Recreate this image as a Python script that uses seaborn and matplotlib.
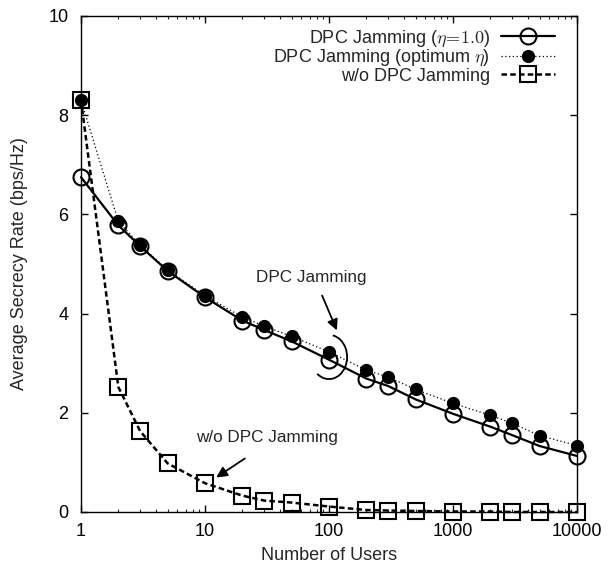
import matplotlib
matplotlib.use("Agg")
import matplotlib.pyplot as plt
from matplotlib.patches import Arc
import seaborn as sns
import pandas as pd

users = [1, 2, 3, 5, 10, 20, 30, 50, 100, 200, 300, 500, 1000, 2000, 3000, 5000, 10000]
rate_eta1 = [6.75, 5.78, 5.36, 4.86, 4.33, 3.86, 3.67, 3.44, 3.07, 2.69, 2.54, 2.27, 1.98, 1.72, 1.55, 1.33, 1.13]
rate_opt = [8.30, 5.86, 5.38, 4.88, 4.36, 3.93, 3.75, 3.54, 3.23, 2.86, 2.72, 2.47, 2.19, 1.95, 1.79, 1.54, 1.34]
rate_wo = [8.30, 2.52, 1.63, 0.98, 0.58, 0.33, 0.23, 0.19, 0.11, 0.04, 0.03, 0.02, 0.01, 0.01, 0.0, 0.0, 0.0]

labels = [r"DPC Jamming ($\eta\!=\!1.0$)", r"DPC Jamming (optimum $\eta$)", "w/o DPC Jamming"]
x_ticks = [1, 10, 100, 1000, 10000]
x_ticklabels = ["1", "10", "100", "1000", "10000"]
y_ticks = [0, 2, 4, 6, 8, 10]

sns.set_style("ticks")
plt.rcParams["font.family"] = ["Liberation Sans", "DejaVu Sans"]
plt.rcParams["mathtext.fontset"] = "cm"
FS = 13

fig = plt.figure(figsize=(6.08, 5.68), dpi=100)
ax = fig.add_axes([81 / 608, 56 / 568, 496 / 608, 496 / 568])

df = pd.DataFrame({"users": users, "eta1": rate_eta1, "opt": rate_opt, "wo": rate_wo})

sns.lineplot(data=df, x="users", y="eta1", ax=ax, color="black", lw=1.6, linestyle="-",
             marker="o", markersize=11.5, markerfacecolor="none", markeredgecolor="black",
             markeredgewidth=1.5, label=labels[0], clip_on=False)
sns.lineplot(data=df, x="users", y="opt", ax=ax, color="black", lw=0.9, linestyle=(0, (1, 2)),
             marker="o", markersize=8.5, markerfacecolor="black", markeredgecolor="black",
             markeredgewidth=1.0, label=labels[1], clip_on=False)
sns.lineplot(data=df, x="users", y="wo", ax=ax, color="black", lw=1.8, linestyle=(0, (2.2, 1.3)),
             marker="s", markersize=11, markerfacecolor="none", markeredgecolor="black",
             markeredgewidth=1.5, label=labels[2], clip_on=False)

ax.set_xscale("log")
ax.set_xlim(1, 10000)
ax.set_ylim(0, 10)
ax.set_xticks(x_ticks)
ax.set_xticklabels(x_ticklabels)
ax.set_yticks(y_ticks)
ax.tick_params(which="major", direction="in", length=5, width=1.0, top=True, right=True,
               labelsize=FS, colors="black")
ax.tick_params(axis="x", which="major", pad=8)
ax.tick_params(axis="y", which="major", pad=9)
ax.tick_params(axis="x", which="minor", direction="in", length=2.5, width=0.8, top=True)
ax.tick_params(axis="y", which="minor", left=False, right=False)
for s in ax.spines.values():
    s.set_linewidth(1.0)
    s.set_color("black")
    s.set_zorder(1)

ax.set_xlabel("Number of Users", fontsize=FS, labelpad=5)
ax.set_ylabel("Average Secrecy Rate (bps/Hz)", fontsize=FS, labelpad=15)

leg = ax.legend(loc="upper right", bbox_to_anchor=(0.956, 0.975), frameon=False,
                markerfirst=False, fontsize=FS, handlelength=3.0, handletextpad=0.6,
                labelspacing=-0.05, borderaxespad=0, borderpad=0)
for t in leg.get_texts():
    t.set_ha("right")

# annotations
ax.annotate("", xy=(0.518, 0.361), xytext=(0.484, 0.4415), xycoords="axes fraction",
            arrowprops=dict(arrowstyle="-|>", color="black", lw=1.3, mutation_scale=16))
ax.text(0.464, 0.472, "DPC Jamming", transform=ax.transAxes, ha="center", va="center",
        fontsize=FS * 0.95)
ax.add_patch(Arc((0.50, 0.3125), 0.073, 0.089, theta1=-125, theta2=80,
                 transform=ax.transAxes, color="black", lw=1.3))

ax.annotate("", xy=(0.268, 0.0665), xytext=(0.335, 0.111), xycoords="axes fraction",
            arrowprops=dict(arrowstyle="-|>", color="black", lw=1.3, mutation_scale=16))
ax.text(0.375, 0.151, "w/o DPC Jamming", transform=ax.transAxes, ha="center", va="center",
        fontsize=FS * 0.95)

fig.savefig("out.png", dpi=100)
